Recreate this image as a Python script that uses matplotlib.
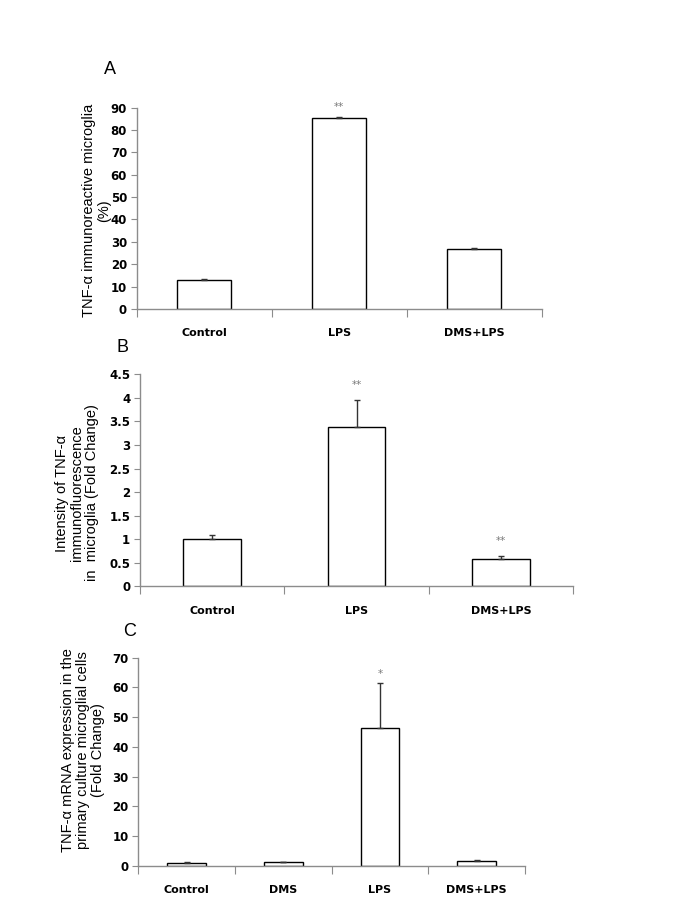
import matplotlib
matplotlib.use("Agg")
import matplotlib.pyplot as plt
import numpy as np

# panel A
a_groups = ["Control", "LPS", "DMS+LPS"]
a_values = [13.0, 85.5, 26.7]
a_errors = [0.4, 0.4, 0.4]
a_stars = ["", "**", ""]

# panel B
b_groups = ["Control", "LPS", "DMS+LPS"]
b_values = [1.0, 3.39, 0.58]
b_errors = [0.09, 0.57, 0.07]
b_stars = ["", "**", "**"]

# panel C
c_groups = ["Control", "DMS", "LPS", "DMS+LPS"]
c_values = [0.9, 1.2, 46.3, 1.5]
c_errors = [0.2, 0.2, 15.1, 0.3]
c_stars = ["", "", "*", ""]

axis_gray = "#8c8c8c"
star_gray = "#7a7a7a"

fig = plt.figure(figsize=(6.85, 9.13), dpi=100)


def draw_panel(rect, groups, values, errors, stars, ymax, ystep, ylabel,
               label_xy, letter, letter_xy, star_off):
    ax = fig.add_axes(rect)
    n = len(groups)
    x = np.arange(n) + 0.5
    ax.bar(x, values, width=0.4, color="white", edgecolor="black", linewidth=1.0, zorder=2)
    ax.errorbar(x, values, yerr=[np.zeros(n), errors], fmt="none", ecolor="#333333",
                elinewidth=1.0, capsize=2.5, capthick=1.0, zorder=3)
    for xi, v, e, s in zip(x, values, errors, stars):
        if s:
            ax.text(xi, v + e + star_off, s, ha="center", va="bottom", fontsize=7.5,
                    color=star_gray)
    ax.set_xlim(0, n)
    ax.set_ylim(0, ymax)
    ticks = np.arange(0, ymax + ystep / 2, ystep)
    ax.set_yticks(ticks)
    ax.set_yticklabels(["%g" % t for t in ticks], fontsize=8.5, fontweight="bold")
    ax.set_xticks(np.arange(n + 1))
    ax.set_xticklabels([])
    ax.set_xticks(x, minor=True)
    ax.set_xticklabels(groups, minor=True, fontsize=8, fontweight="bold")
    ax.tick_params(axis="x", which="major", direction="out", length=6, color=axis_gray)
    ax.tick_params(axis="x", which="minor", length=0, pad=14)
    ax.tick_params(axis="y", direction="out", length=4, color=axis_gray, pad=3)
    for side in ["top", "right"]:
        ax.spines[side].set_visible(False)
    for side in ["left", "bottom"]:
        ax.spines[side].set_color(axis_gray)
        ax.spines[side].set_linewidth(1.0)
    ax.text(label_xy[0], label_xy[1], ylabel, transform=ax.transAxes, rotation=90,
            ha="center", va="center", multialignment="center", fontsize=10.5,
            family="Liberation Sans", linespacing=1.12)
    fig.text(letter_xy[0] / 685, 1 - letter_xy[1] / 913, letter, fontsize=13,
             family="Liberation Sans", ha="center", va="center")
    return ax


draw_panel([0.1996, 0.6616, 0.5912, 0.2205], a_groups, a_values, a_errors, a_stars,
           90, 10, "TNF-\u03b1 immunoreactive microglia\n(%)", (-0.100, 0.49),
           "A", (110, 69), 2.0)

draw_panel([0.2044, 0.3578, 0.6321, 0.2322], b_groups, b_values, b_errors, b_stars,
           4.5, 0.5, "Intensity of TNF-\u03b1\nimmunofluorescence\nin  microglia (Fold Change)",
           (-0.1455, 0.44), "B", (123, 347), 0.2)

draw_panel([0.2019, 0.0518, 0.5645, 0.2278], c_groups, c_values, c_errors, c_stars,
           70, 10, "TNF-\u03b1 mRNA expression in the\nprimary culture microglial cells\n(Fold Change)",
           (-0.143, 0.556), "C", (130, 631), 1.5)

fig.savefig("out.png", dpi=100)
